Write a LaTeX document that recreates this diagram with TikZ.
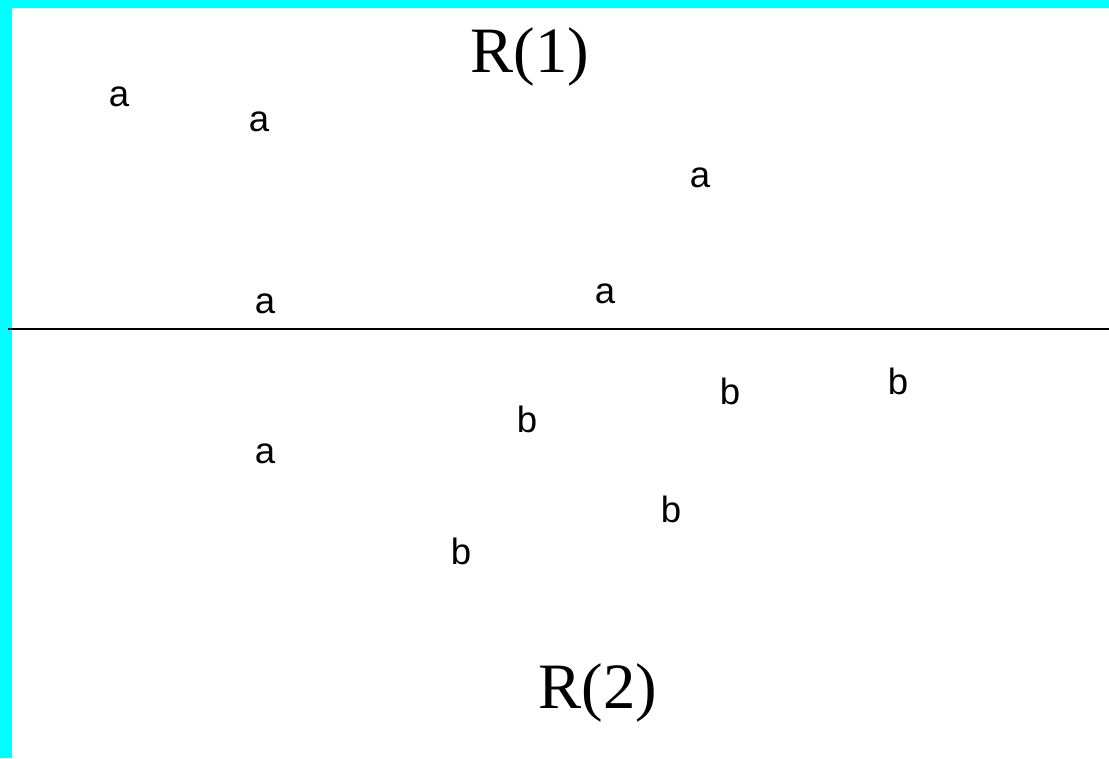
\documentclass[tikz,border=0pt]{standalone}
\usepackage{fontspec}
\setmainfont{Liberation Serif}
\newfontfamily\pixfont{Liberation Sans}
\usetikzlibrary{positioning}
\definecolor{frameCyan}{RGB}{0,255,255}

\begin{document}
\begin{tikzpicture}[x=0.025cm,y=-0.025cm,
  region/.style={inner sep=0pt,font=\fontsize{46}{50}\selectfont},
  elem/.style={inner sep=0pt,font=\pixfont\fontsize{26}{28}\selectfont}]
\path[use as bounding box] (0,0) rectangle (1109,758);
\fill[frameCyan] (0,0) rectangle (1109,758);
\fill[white] (12,8) rectangle (1109,758);

\node[region] (r1) at (530,57) {R(1)};
\node[region] (r2) at (598,693) {R(2)};

% split line
\coordinate (divL) at (8,329);
\coordinate (divR) at (1109,329);
\draw[line width=1.4pt] (divL) -- (divR);

% elements of R(1)
\node[elem] (a1) at (119,97) {a};
\node[elem] (a2) at (259,122) {a};
\node[elem] (a3) at (700,178) {a};
\node[elem] (a4) at (265,304) {a};
\node[elem] (a5) at (605,294) {a};
\node[elem] (a6) at (265,454) {a};

% elements of R(2)
\node[elem] (b1) at (730,391) {b};
\node[elem] (b2) at (898,381) {b};
\node[elem] (b3) at (527,419) {b};
\node[elem] (b4) at (671,509) {b};
\node[elem] (b5) at (461,551) {b};
\end{tikzpicture}
\end{document}
